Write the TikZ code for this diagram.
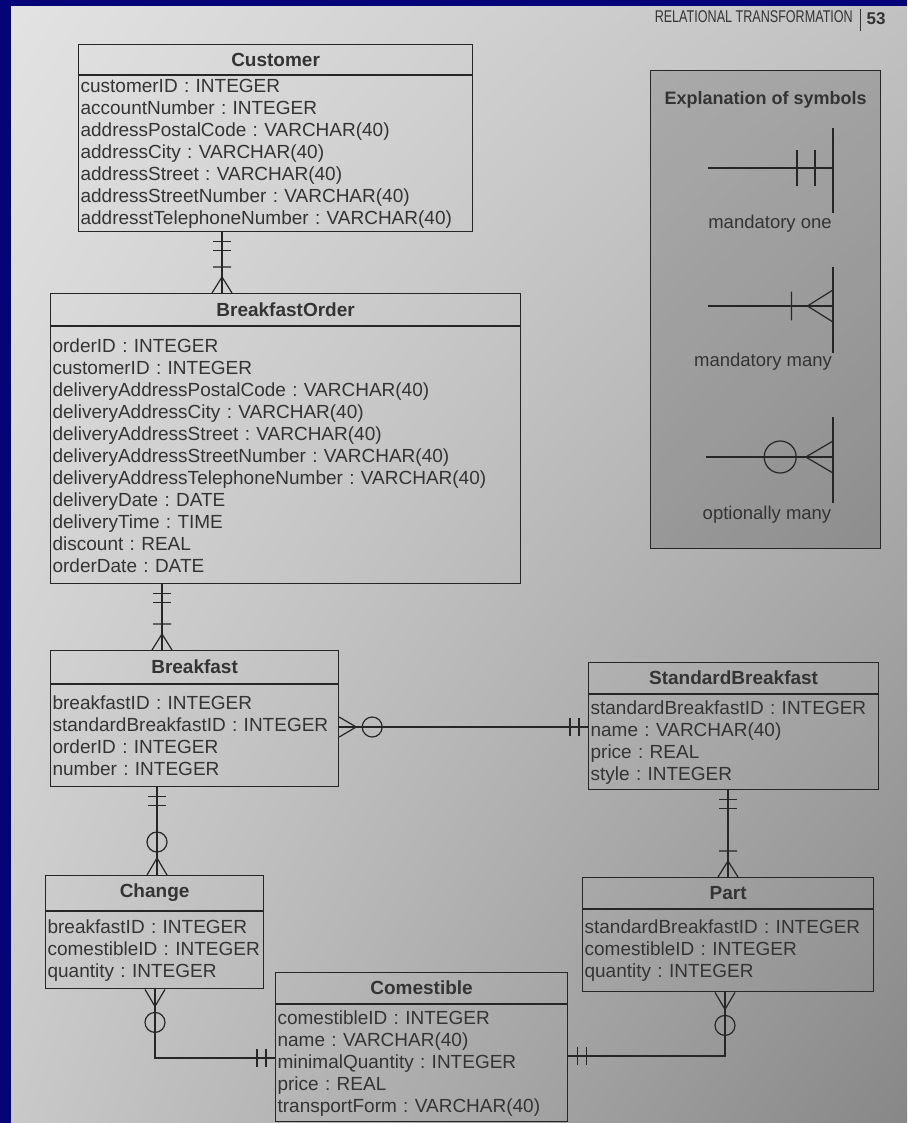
\documentclass[tikz,border=0pt]{standalone}
\usepackage{fontspec}
\setmainfont{Liberation Sans}
\usepackage{tikz}
\usetikzlibrary{positioning,decorations.markings,shadings}

\definecolor{frameblue}{RGB}{4,4,120}
\definecolor{ink}{RGB}{38,38,38}
\definecolor{print}{RGB}{52,52,52}

\begin{document}
\begin{tikzpicture}[
    x=1pt, y=-1pt,
    tabhead/.style={draw=ink, line width=1.2pt, anchor=north west, inner sep=0pt, text=print, font=\bfseries\fontsize{19}{22}\selectfont},
    tabbody/.style={draw=ink, line width=1.2pt, inner xsep=2pt, inner ysep=0pt, align=left, text=print, font=\fontsize{19}{22}\selectfont\frenchspacing},
    note/.style={text=print, font=\fontsize{18.5}{22}\selectfont},
    legendbox/.style={draw=ink, line width=1.2pt, fill=black, fill opacity=0.15, anchor=north west},
    sym/.style={draw=ink, line width=1.2pt},
    link/.style={draw=ink, line width=1.2pt},
    one start/.style={postaction={decorate, decoration={markings, mark=at position 0 with {\draw[sym, scale=#1] (9pt,-9pt) -- (9pt,9pt) (18pt,-9pt) -- (18pt,9pt);}}}},
    one start/.default=1,
    one end/.style={postaction={decorate, decoration={markings, mark=at position 1 with {\draw[sym, scale=#1] (-9pt,-9pt) -- (-9pt,9pt) (-18pt,-9pt) -- (-18pt,9pt);}}}},
    one end/.default=1,
    many end/.style={postaction={decorate, decoration={markings, mark=at position 1 with {\draw[sym, scale=#1] (0pt,-10pt) -- (-16pt,0pt) -- (0pt,10pt) (-26pt,-9pt) -- (-26pt,9pt);}}}},
    many end/.default=1,
    omany start/.style={postaction={decorate, decoration={markings, mark=at position 0 with {\draw[sym, scale=#1] (0pt,-10pt) -- (17pt,0pt) -- (0pt,10pt) (33pt,0pt) circle (10pt);}}}},
    omany start/.default=1,
    omany end/.style={postaction={decorate, decoration={markings, mark=at position 1 with {\draw[sym, scale=#1] (0pt,-10pt) -- (-17pt,0pt) -- (0pt,10pt) (-33pt,0pt) circle (10pt);}}}},
    omany end/.default=1
]
    \useasboundingbox (0,0) rectangle (907,1123);
    % Page
    \shade[upper left=black!11, upper right=black!24, lower left=black!21, lower right=black!47] (0,0) rectangle (907,1123);

    % Running head
    \node[text=print, font=\fontsize{17}{18}\selectfont, anchor=east, inner xsep=0pt] (runHead) at (853,17) {\scalebox{0.74}[1]{RELATIONAL TRANSFORMATION}};
    \draw[print, line width=0.9pt] (860,9) -- (860,31);
    \node[text=print, font=\bfseries\fontsize{17}{18}\selectfont] (pageNo) at (876,19) {53};

    % Customer
    \node[tabhead, minimum width=394pt, minimum height=30pt] (custH) at (78,44) {Customer};
    \node[tabbody, below=0pt of custH, text width=390pt, minimum height=156pt] (custA) {customerID : INTEGER\\ accountNumber : INTEGER\\ addressPostalCode : VARCHAR(40)\\ addressCity : VARCHAR(40)\\ addressStreet : VARCHAR(40)\\ addressStreetNumber : VARCHAR(40)\\ addresstTelephoneNumber : VARCHAR(40)};

    % BreakfastOrder
    \node[tabhead, minimum width=470pt, minimum height=32pt] (ordH) at (50,293) {BreakfastOrder};
    \node[tabbody, below=0pt of ordH, text width=466pt, minimum height=257pt] (ordA) {orderID : INTEGER\\ customerID : INTEGER\\ deliveryAddressPostalCode : VARCHAR(40)\\ deliveryAddressCity : VARCHAR(40)\\ deliveryAddressStreet : VARCHAR(40)\\ deliveryAddressStreetNumber : VARCHAR(40)\\ deliveryAddressTelephoneNumber : VARCHAR(40)\\ deliveryDate : DATE\\ deliveryTime : TIME\\ discount : REAL\\ orderDate : DATE};

    % Breakfast and StandardBreakfast
    \node[tabhead, minimum width=288pt, minimum height=33pt] (brkH) at (50,650) {Breakfast};
    \node[tabbody, below=0pt of brkH, text width=284pt, minimum height=102pt] (brkA) {breakfastID : INTEGER\\ standardBreakfastID : INTEGER\\ orderID : INTEGER\\ number : INTEGER};
    \node[tabhead, minimum width=290pt, minimum height=31pt] (stdH) at (588,662) {StandardBreakfast};
    \node[tabbody, below=0pt of stdH, text width=286pt, minimum height=95pt] (stdA) {standardBreakfastID : INTEGER\\ name : VARCHAR(40)\\ price : REAL\\ style : INTEGER};

    % Change, Part, Comestible
    \node[tabhead, minimum width=218pt, minimum height=35pt] (chgH) at (45,875) {Change};
    \node[tabbody, below=0pt of chgH, text width=214pt, minimum height=77pt] (chgA) {breakfastID : INTEGER\\ comestibleID : INTEGER\\ quantity : INTEGER};
    \node[tabhead, minimum width=291pt, minimum height=31pt] (partH) at (582,877) {Part};
    \node[tabbody, below=0pt of partH, text width=287pt, minimum height=82pt] (partA) {standardBreakfastID : INTEGER\\ comestibleID : INTEGER\\ quantity : INTEGER};
    \node[tabhead, minimum width=292pt, minimum height=31pt] (comH) at (275,972) {Comestible};
    \node[tabbody, below=0pt of comH, text width=288pt, minimum height=117pt] (comA) {comestibleID : INTEGER\\ name : VARCHAR(40)\\ minimalQuantity : INTEGER\\ price : REAL\\ transportForm : VARCHAR(40)};

    % Relationships
    \coordinate (custOrd) at (222,0);
    \coordinate (ordBrk) at (162,0);
    \coordinate (brkChg) at (157,0);
    \coordinate (brkStd) at (0,727);
    \coordinate (stdPart) at (728,0);
    \coordinate (chgCom) at (155,1058);
    \coordinate (partCom) at (725,1056);
    \draw[link, one start, many end] (custA.south -| custOrd) -- (ordH.north -| custOrd);
    \draw[link, one start, many end] (ordA.south -| ordBrk) -- (brkH.north -| ordBrk);
    \draw[link, one start, omany end] (brkA.south -| brkChg) -- (chgH.north -| brkChg);
    \draw[link, omany start, one end] (brkA.east |- brkStd) -- (stdA.west |- brkStd);
    \draw[link, one start, many end] (stdA.south -| stdPart) -- (partH.north -| stdPart);
    \draw[link, omany start, one end] (chgA.south -| chgCom) |- (comA.west |- chgCom);
    \draw[link, omany start, one end] (partA.south -| partCom) |- (comA.east |- partCom);

    % Legend
    \node[legendbox, minimum width=230pt, minimum height=478pt] (legend) at (650,70) {};
    \node[note, font=\bfseries\fontsize{18}{22}\selectfont, below=18pt of legend.north] (legTitle) {Explanation of symbols};
    \coordinate (oneA) at (708,168);
    \coordinate (oneB) at (833,168);
    \coordinate (manyA) at (708,306);
    \coordinate (manyB) at (833,306);
    \coordinate (omanyA) at (706,457);
    \coordinate (omanyB) at (833,457);
    \draw[link, one end=2] (oneA) -- (oneB);
    \draw[sym] (833,128) -- (833,213);
    \node[note] (oneLbl) at (770,224) {mandatory one};
    \draw[link, many end=1.6] (manyA) -- (manyB);
    \draw[sym] (833,267) -- (833,353);
    \node[note] (manyLbl) at (763,362) {mandatory many};
    \draw[link, omany end=1.6] (omanyA) -- (omanyB);
    \draw[sym] (833,417) -- (833,503);
    \node[note] (omanyLbl) at (767,515) {optionally many};

    % Frame
    \fill[frameblue] (0,0) rectangle (11,1123);
    \fill[frameblue] (0,0) rectangle (907,6);
\end{tikzpicture}
\end{document}
